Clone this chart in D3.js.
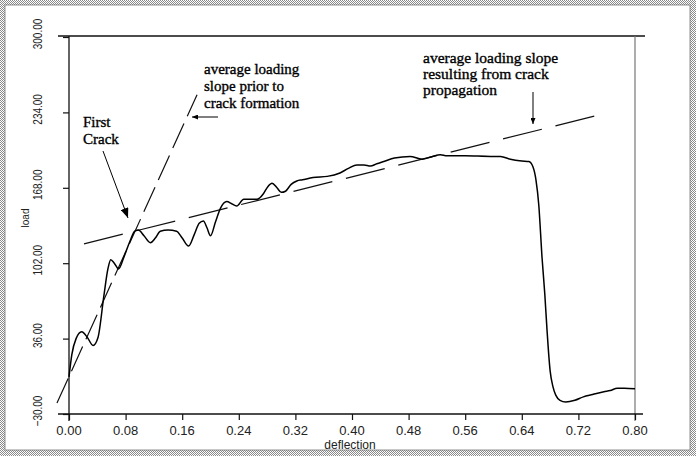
<!DOCTYPE html>
<html><head><meta charset="utf-8">
<script src="https://cdn.jsdelivr.net/npm/d3@7"></script>
<style>html,body{margin:0;padding:0;background:#fff;}svg{display:block;}</style>
</head><body>
<svg id="chart" width="696" height="459"></svg>
<script>
// ---- data ----
const deflection = [0, 0.004, 0.010, 0.018, 0.026, 0.034, 0.041, 0.049, 0.055, 0.059, 0.064, 0.070, 0.078, 0.086, 0.093, 0.098, 0.106, 0.115, 0.122, 0.129, 0.140, 0.152, 0.160, 0.169, 0.177, 0.184, 0.190, 0.195, 0.200, 0.207, 0.214, 0.223, 0.230, 0.237, 0.247, 0.256, 0.266, 0.275, 0.281, 0.287, 0.294, 0.300, 0.306, 0.314, 0.322, 0.330, 0.345, 0.365, 0.383, 0.395, 0.407, 0.417, 0.426, 0.435, 0.445, 0.460, 0.482, 0.499, 0.512, 0.525, 0.534, 0.560, 0.596, 0.610, 0.624, 0.640, 0.650, 0.656, 0.660, 0.664, 0.6686, 0.6725, 0.6757, 0.680, 0.684, 0.688, 0.694, 0.702, 0.715, 0.727, 0.740, 0.756, 0.765, 0.775, 0.785, 0.800];
const load = [2.5, 22, 36, 42, 37, 30, 37, 72, 97, 105, 102, 97, 108, 121, 130, 131, 126, 120, 124, 130, 131, 130, 124, 117, 127, 137, 139, 133, 126, 138, 150, 156, 154, 152, 158, 158, 158, 163, 169, 172, 168, 164, 165, 171, 174, 175, 177, 178, 181, 185, 188, 188, 187, 189, 191, 194, 195.5, 193, 195, 197, 196, 196, 195.5, 195.5, 193, 191.5, 191, 186, 175, 153, 107, 75, 43, 8, -6, -13.5, -18, -19.5, -18, -15, -13, -10.5, -9.5, -7.5, -7.5, -8];
// average slope lines: [deflection, load] endpoints
const slopePriorX = [-0.017, 0.181];
const slopePriorY = [-20.4, 249.5];
const slopePropX = [0.0212, 0.751];
const slopePropY = [118.9, 232.1];
const xTicks = [0, 0.08, 0.16, 0.24, 0.32, 0.40, 0.48, 0.56, 0.64, 0.72, 0.80];
const yTicks = [-30, 36, 102, 168, 234, 300];
const annPrior = ["average loading", "slope prior to", "crack formation"];
const annProp = ["average loading slope", "resulting from crack", "propagation"];
const annCrack = ["First", "Crack"];

// ---- drawing ----
const svg = d3.select("#chart");
const W = 696, H = 459;
const x = d3.scaleLinear().domain([0, 0.8]).range([69, 635]);
const y = d3.scaleLinear().domain([-30, 300]).range([414, 37]);

const defs = svg.append("defs");
const pat = defs.append("pattern").attr("id", "dots").attr("width", 2).attr("height", 2).attr("patternUnits", "userSpaceOnUse");
pat.append("rect").attr("width", 2).attr("height", 2).attr("fill", "#fff");
pat.append("rect").attr("width", 1).attr("height", 1).attr("fill", "#8a8a8a");
pat.append("rect").attr("x", 1).attr("y", 1).attr("width", 1).attr("height", 1).attr("fill", "#8a8a8a");
const mk = (id, w, h, pathD, rx, ry) => defs.append("marker").attr("id", id)
  .attr("viewBox", `0 0 ${w} ${h}`).attr("refX", rx).attr("refY", ry)
  .attr("markerWidth", w).attr("markerHeight", h).attr("markerUnits", "userSpaceOnUse")
  .attr("orient", "auto").append("path").attr("d", pathD).attr("fill", "#000");
mk("arr", 10, 8, "M0,0 L10,4 L0,8 Z", 10, 4);
mk("arrs", 6, 5, "M0,0 L6,2.5 L0,5 Z", 6, 2.5);

// border band
svg.append("path").attr("fill-rule", "evenodd").attr("fill", "url(#dots)")
  .attr("d", `M0,0H${W}V456H0Z M5,5H690V450H5Z`);
svg.append("rect").attr("x", 5).attr("y", 5).attr("width", 685).attr("height", 445)
  .attr("fill", "none").attr("stroke", "#777").attr("stroke-width", 0.8);

// frame lines
svg.append("line").attr("x1", 58).attr("x2", 645).attr("y1", 36).attr("y2", 36).attr("stroke", "#111").attr("stroke-width", 1.6);
svg.append("line").attr("x1", x(0.8)).attr("x2", x(0.8)).attr("y1", 36).attr("y2", 421).attr("stroke", "#777").attr("stroke-width", 1.2);
svg.append("line").attr("x1", 58).attr("x2", 643).attr("y1", y(-30)).attr("y2", y(-30)).attr("stroke", "#111").attr("stroke-width", 1.3);
svg.append("line").attr("x1", x(0)).attr("x2", x(0)).attr("y1", 36).attr("y2", 421).attr("stroke", "#111").attr("stroke-width", 1.3);

// axes (ticks only)
const xa = svg.append("g").attr("transform", `translate(0,${y(-30)})`)
  .call(d3.axisBottom(x).tickValues(xTicks).tickSize(6).tickFormat(""));
xa.select(".domain").remove();
xa.selectAll("line").attr("stroke", "#111").attr("stroke-width", 1.2);
const ya = svg.append("g").attr("transform", `translate(${x(0)},0)`)
  .call(d3.axisLeft(y).tickValues(yTicks).tickSize(6).tickFormat(""));
ya.select(".domain").remove();
ya.selectAll("line").attr("stroke", "#111").attr("stroke-width", 1.2);

const fmt = d3.format(".2f");
svg.append("g").selectAll("text").data(xTicks).join("text")
  .attr("x", d => x(d)).attr("y", 435).attr("text-anchor", "middle")
  .attr("font-family", "Liberation Sans, Arial, sans-serif").attr("font-size", 13).attr("fill", "#222")
  .text(d => fmt(d));
svg.append("g").selectAll("text").data(yTicks).join("text")
  .attr("transform", d => `translate(42,${y(d) - 3}) rotate(-90) scale(0.8,1)`)
  .attr("text-anchor", "middle")
  .attr("font-family", "Liberation Sans, Arial, sans-serif").attr("font-size", 12.5).attr("fill", "#222")
  .text(d => fmt(d));
svg.append("text").attr("transform", "translate(29,218) rotate(-90)").attr("text-anchor", "middle")
  .attr("font-family", "Liberation Sans, Arial, sans-serif").attr("font-size", 10).attr("fill", "#222").text("load");
svg.append("text").attr("x", 350).attr("y", 449).attr("text-anchor", "middle")
  .attr("font-family", "Liberation Sans, Arial, sans-serif").attr("font-size", 12).attr("fill", "#222").text("deflection");

// dashed slope lines
const seg = d3.line().x(d => x(d[0])).y(d => y(d[1]));
svg.append("path").attr("d", seg(d3.zip(slopePriorX, slopePriorY)))
  .attr("fill", "none").attr("stroke", "#111").attr("stroke-width", 1.2).attr("stroke-dasharray", "27,8");
svg.append("path").attr("d", seg(d3.zip(slopePropX, slopePropY)))
  .attr("fill", "none").attr("stroke", "#111").attr("stroke-width", 1.2).attr("stroke-dasharray", "40,14");

// load-deflection curve
const curve = d3.line().x(d => x(d[0])).y(d => y(d[1])).curve(d3.curveMonotoneX);
svg.append("path").attr("d", curve(d3.zip(deflection, load)))
  .attr("fill", "none").attr("stroke", "#000").attr("stroke-width", 1.5).attr("stroke-linejoin", "round");

// annotations
const serif = "Liberation Serif, Times New Roman, serif";
const ann = (t, xx, yy, fs) => svg.append("text").attr("x", xx).attr("y", yy)
  .attr("font-family", serif).attr("font-size", fs).attr("fill", "#000")
  .attr("stroke", "#000").attr("stroke-width", 0.35).text(t);
annPrior.forEach((t, i) => ann(t, 204, 74 + i * 17, 15));
annProp.forEach((t, i) => ann(t, 423, 63 + i * 16, 15.5));
annCrack.forEach((t, i) => ann(t, 83, 127 + i * 17, 15));

svg.append("line").attr("x1", 103).attr("y1", 151).attr("x2", 128).attr("y2", 218)
  .attr("stroke", "#000").attr("stroke-width", 1).attr("marker-end", "url(#arr)");
svg.append("line").attr("x1", 218).attr("y1", 117).attr("x2", 192).attr("y2", 117)
  .attr("stroke", "#000").attr("stroke-width", 1).attr("marker-end", "url(#arrs)");
svg.append("line").attr("x1", 533).attr("y1", 92).attr("x2", 533).attr("y2", 124)
  .attr("stroke", "#000").attr("stroke-width", 1).attr("marker-end", "url(#arrs)");
</script>
</body></html>
